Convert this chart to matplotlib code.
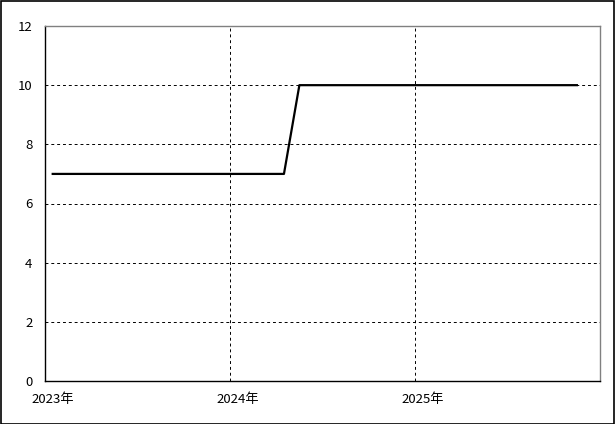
import matplotlib
matplotlib.use("Agg")
import matplotlib.pyplot as plt
from matplotlib.patches import Rectangle

plt.rcParams['font.family'] = ['Noto Sans CJK JP', 'DejaVu Sans']

# 月次データ (2023年1月〜2025年11月)
months = [f"{y}-{m:02d}" for y in (2023, 2024, 2025) for m in range(1, 13)][:35]
values = [7] * 16 + [10] * 19
year_labels = ["2023年", "2024年", "2025年"]

fig = plt.figure(figsize=(6.15, 4.24), dpi=100)
ax = fig.add_axes([45 / 615, 43 / 424, 555 / 615, 355 / 424])

x = [i + 0.5 for i in range(len(months))]
ax.plot(x, values, color="black", linewidth=1.6)

ax.set_xlim(0, 36)
ax.set_ylim(0, 12)
ax.set_yticks(range(0, 13, 2))
ax.set_xticks([0.5, 12.5, 24.5])
ax.set_xticklabels(year_labels)
ax.tick_params(axis="both", length=0, labelsize=9.5, colors="black")
ax.tick_params(axis="y", pad=9)
ax.tick_params(axis="x", pad=9)

# グリッド
for yv in range(2, 12, 2):
    ax.axhline(yv, color="black", linewidth=0.7, linestyle=(0, (3, 3)))
for xv in (12, 24):
    ax.axvline(xv, color="black", linewidth=0.7, linestyle=(0, (3, 3)))

ax.spines["top"].set_color("gray")
ax.spines["right"].set_color("gray")
for s in ax.spines.values():
    s.set_linewidth(1.0)

# 外枠
fig.patches.append(Rectangle((0.001, 0.001), 0.997, 0.997, transform=fig.transFigure,
                             fill=False, edgecolor="black", linewidth=1.2))

fig.savefig("out.png", dpi=100)
